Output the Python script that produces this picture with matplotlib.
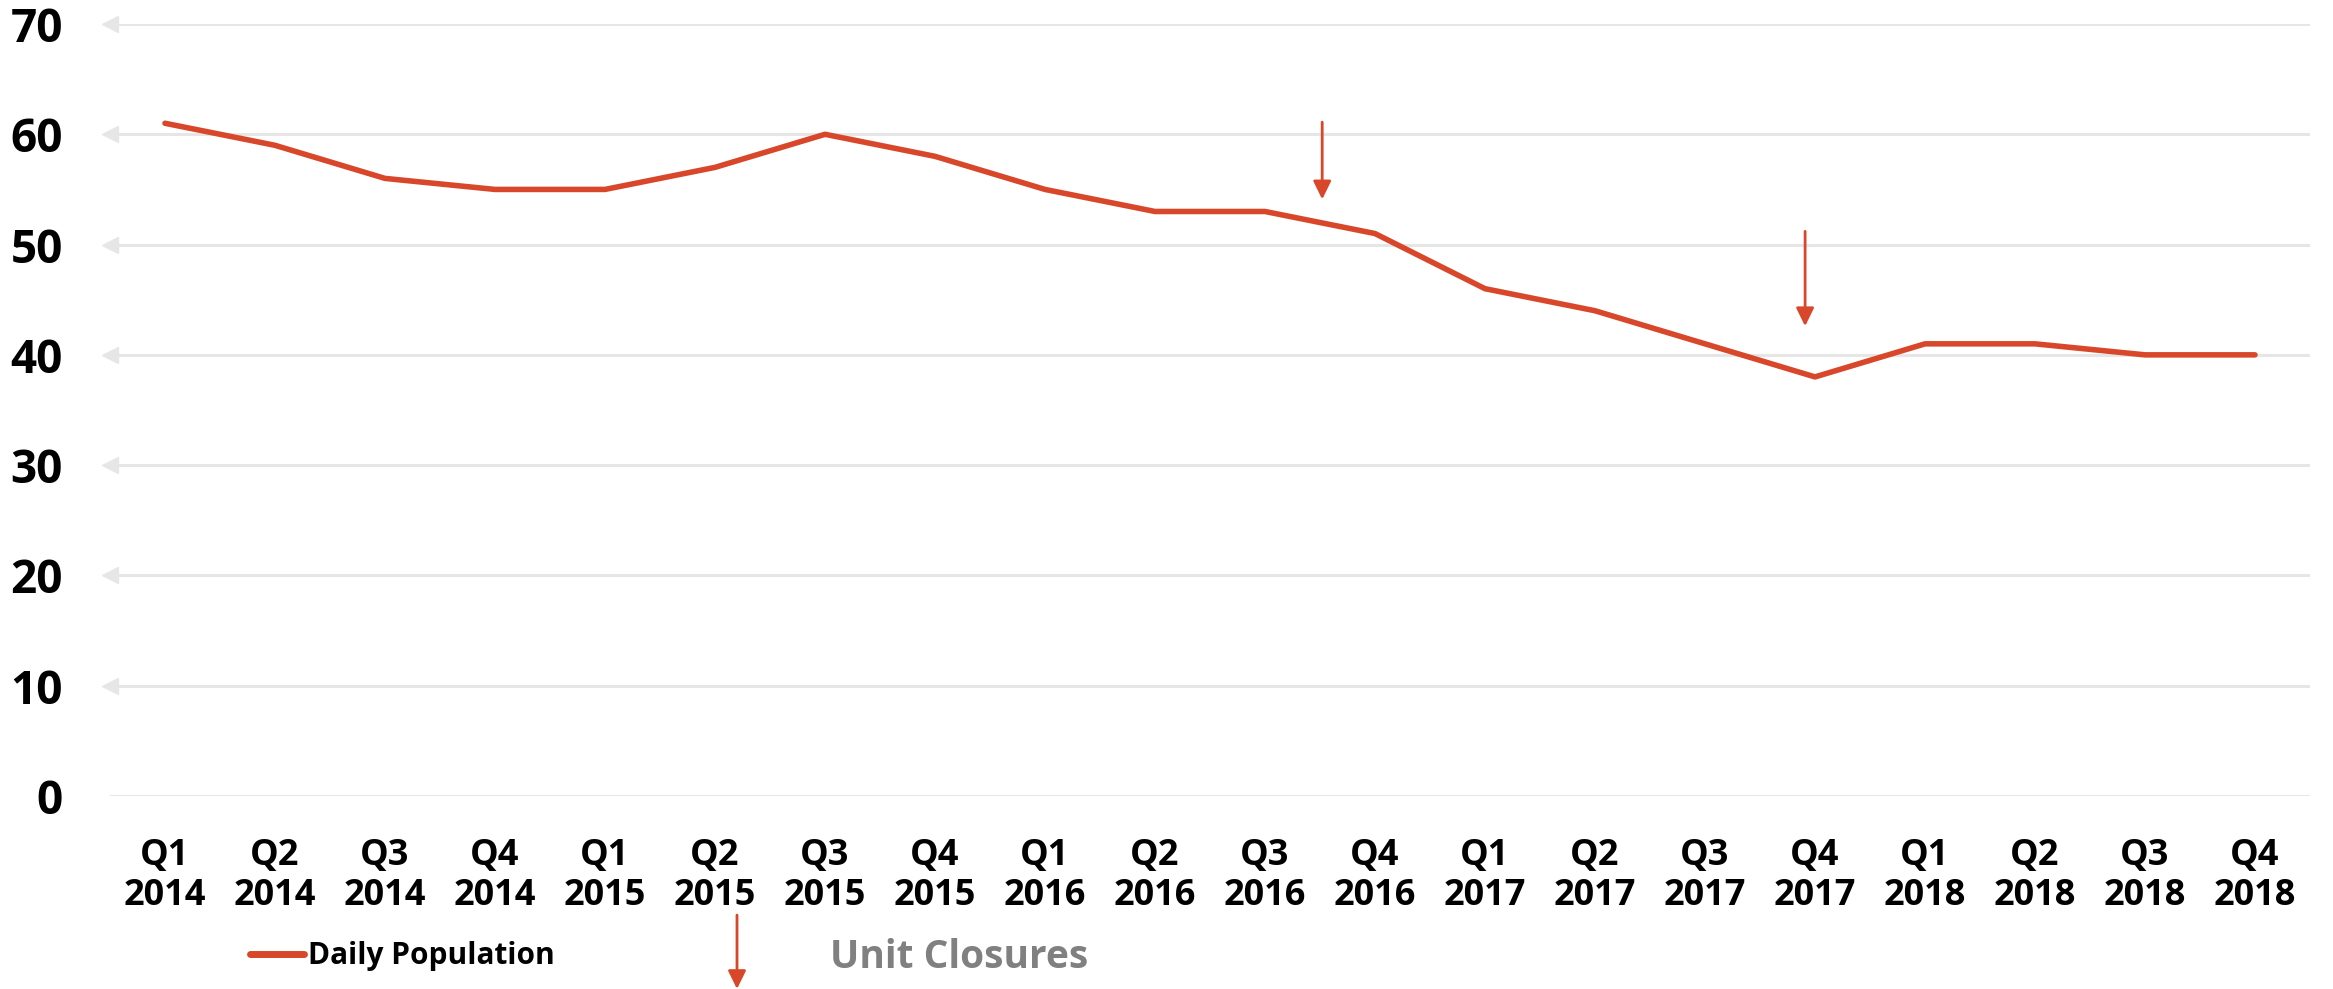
# encoding = utf-8
# Daily population by quarter, with unit closure markers
import matplotlib.pyplot as plt
from matplotlib.lines import Line2D

quarters = ['Q1', 'Q2', 'Q3', 'Q4'] * 5
years = ['2014'] * 4 + ['2015'] * 4 + ['2016'] * 4 + ['2017'] * 4 + ['2018'] * 4
daily_population = [61, 59, 56, 55, 55, 57, 60, 58, 55, 53,
                    53, 51, 46, 44, 41, 38, 41, 41, 40, 40]
y_ticks = [0, 10, 20, 30, 40, 50, 60, 70]

# unit closure arrows: (x, y_start, y_end) in data units
closures = [(10.52, 61.1, 54.1), (14.91, 51.2, 42.6), (5.2, -10.8, -17.5)]

LINE_COLOR = '#D9472B'
GRID_COLOR = '#E6E6E6'
FONT = 'Open Sans'


def main():
    plt.rcParams['font.family'] = [FONT, 'DejaVu Sans']
    fig = plt.figure(figsize=(23.33, 9.89), dpi=100)
    ax = fig.add_axes([110 / 2333, 1 - 796 / 989, 2200 / 2333, 772 / 989])

    x = list(range(len(daily_population)))
    ax.set_xlim(-0.5, len(x) - 0.5)
    ax.set_ylim(0, 70)

    # gridlines with small left-pointing arrowheads
    for yt in y_ticks:
        ax.axhline(yt, color=GRID_COLOR, lw=2.2, zorder=0)
        if yt > 0:
            ax.plot([-0.5], [yt], marker='<', ms=11, color=GRID_COLOR,
                    mec=GRID_COLOR, clip_on=False, zorder=0)

    ax.plot(x, daily_population, color=LINE_COLOR, lw=4,
            solid_capstyle='round', solid_joinstyle='round', zorder=3)

    for xa, y0, y1 in closures:
        ax.annotate('', xy=(xa, y1), xytext=(xa, y0), annotation_clip=False,
                    arrowprops=dict(arrowstyle='-|>,head_length=0.55,head_width=0.27',
                                    color=LINE_COLOR, lw=2, mutation_scale=20,
                                    shrinkA=0, shrinkB=0))

    ax.set_yticks(y_ticks)
    ax.set_yticklabels([str(v) for v in y_ticks], fontsize=33, fontweight='bold')
    ax.set_xticks(x)
    ax.set_xticklabels([q + '\n' + y for q, y in zip(quarters, years)],
                       fontsize=26, fontweight='bold', linespacing=1.15)
    ax.tick_params(axis='both', length=0)
    ax.tick_params(axis='y', pad=34)
    ax.tick_params(axis='x', pad=30)
    for s in ax.spines.values():
        s.set_visible(False)

    handle = Line2D([], [], color=LINE_COLOR, lw=5, solid_capstyle='round')
    fig.legend([handle], ['Daily Population'], loc='center left',
               bbox_to_anchor=(250 / 2333, 1 - 956 / 989), frameon=False,
               prop={'family': FONT, 'weight': 'bold', 'size': 21.5},
               handlelength=1.8, handletextpad=0.15, borderpad=0,
               borderaxespad=0)
    fig.text(830 / 2333, 1 - 957 / 989, 'Unit Closures', fontsize=28,
             fontweight='bold', color='#808080', va='center', ha='left')

    fig.savefig('out.png', dpi=100)


if __name__ == '__main__':
    main()
